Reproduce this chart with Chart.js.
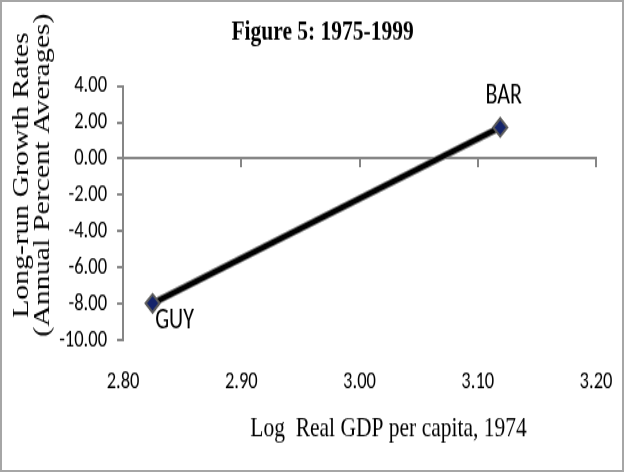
<!DOCTYPE html>
<html><head><meta charset="utf-8">
<script src="https://cdn.jsdelivr.net/npm/chart.js@4"></script>
<style>
html,body{margin:0;padding:0;background:#fff;}
#wrap{width:624px;height:472px;box-sizing:border-box;border:2px solid #a6a6a6;background:#fff;overflow:hidden;}
/* the original figure is stretched vertically (about 1.3x); draw at 620x360 and show at 620x468 */
#c{display:block;width:620px;height:468px;}
</style></head><body>
<div id="wrap"><canvas id="c" width="620" height="360" style="width:620px;height:468px;"></canvas></div>
<script>
// ---- data ----
const countries = ['GUY', 'BAR'];
const logGdp1974 = [2.825, 3.119];
const growthRate = [-7.98, 1.72];
const xTickValues = [2.80, 2.90, 3.00, 3.10, 3.20];
const yTickValues = [-10, -8, -6, -4, -2, 0, 2, 4];
const chartTitle = 'Figure 5: 1975-1999';
const xTitle = 'Log  Real GDP per capita, 1974';
const yTitle = ['Long-run Growth Rates', '(Annual Percent Averages)'];

const points = logGdp1974.map((x, i) => ({ x: x, y: growthRate[i] }));
const sans = "Carlito, Calibri, 'Liberation Sans', sans-serif";
const serif = "'Liberation Serif', 'Times New Roman', serif";
const axisGray = '#868686';

// labels next to the two points
const pointLabels = {
  id: 'pointLabels',
  afterDatasetsDraw(chart, args, opts) {
    const meta = chart.getDatasetMeta(1);
    const ctx = chart.ctx;
    ctx.save();
    ctx.font = opts.font;
    ctx.fillStyle = '#000';
    ctx.textAlign = 'center';
    ctx.textBaseline = 'middle';
    meta.data.forEach((pt, i) => {
      const off = opts.offsets[i];
      ctx.fillText(countries[i], pt.x + off[0], pt.y + off[1]);
    });
    ctx.restore();
  }
};

// axis titles placed as in the original figure
const axisTitles = {
  id: 'axisTitles',
  afterDraw(chart, args, opts) {
    const ctx = chart.ctx;
    ctx.save();
    ctx.font = opts.xFont;
    ctx.fillStyle = '#000';
    ctx.textAlign = 'center';
    ctx.textBaseline = 'middle';
    ctx.fillText(xTitle, opts.xPos[0], opts.xPos[1]);
    ctx.font = opts.yFont;
    ctx.textBaseline = 'alphabetic';
    yTitle.forEach((line, i) => {
      ctx.save();
      ctx.translate(opts.yBaselines[i], opts.yCenter);
      ctx.rotate(-Math.PI / 2);
      ctx.fillText(line, 0, 0);
      ctx.restore();
    });
    ctx.restore();
  }
};

const setX = s => { s.ticks = xTickValues.map(v => ({ value: v })); };
const setY = s => { s.ticks = yTickValues.map(v => ({ value: v })); };

new Chart(document.getElementById('c'), {
  type: 'scatter',
  data: {
    datasets: [
      { data: points, showLine: true, borderColor: '#7a7a7a', borderWidth: 6, pointRadius: 0, order: 2 },
      { data: points, showLine: true, borderColor: '#000', borderWidth: 4,
        pointStyle: 'rectRot', pointRadius: 7, pointHoverRadius: 7,
        pointBackgroundColor: '#14246b', pointBorderColor: '#5a5a5a', pointBorderWidth: 2, order: 1 }
    ]
  },
  options: {
    responsive: false,
    animation: false,
    events: [],
    layout: { padding: { left: 47.2, right: 26, top: 0, bottom: 52.4 } },
    plugins: {
      legend: { display: false },
      tooltip: { enabled: false },
      title: { display: true, text: chartTitle, color: '#000',
        font: { family: serif, size: 21.5, weight: 'bold' }, padding: { top: 10.3, bottom: 28.5 } },
      pointLabels: { font: '22px ' + sans, offsets: [[22, 13.8], [3.5, -24]] },
      axisTitles: { xFont: '21.5px ' + serif, yFont: '23px ' + serif,
        xPos: [386.5, 328.3], yBaselines: [25.5, 46.5], yCenter: 133.1 }
    },
    scales: {
      x: {
        type: 'linear', position: 'bottom', min: 2.8, max: 3.2,
        afterBuildTicks: setX,
        border: { display: false },
        grid: { display: true, drawOnChartArea: false, drawTicks: true, tickLength: 17.4, color: 'rgba(0,0,0,0)' },
        ticks: { color: '#000', font: { family: sans, size: 18.5 }, padding: 4,
          callback: v => Number(v).toFixed(2), maxRotation: 0 }
      },
      x2: {
        type: 'linear', axis: 'x', position: { y: 0 }, min: 2.8, max: 3.2,
        afterBuildTicks: setX,
        border: { display: true, color: axisGray, width: 2 },
        grid: { drawOnChartArea: false, drawTicks: true, tickLength: 6, color: axisGray, lineWidth: 2 },
        ticks: { display: false }
      },
      y: {
        type: 'linear', position: 'left', min: -10, max: 4,
        afterBuildTicks: setY,
        border: { display: true, color: axisGray, width: 2 },
        grid: { drawOnChartArea: false, drawTicks: true, tickLength: 6, color: axisGray, lineWidth: 2 },
        ticks: { color: '#000', font: { family: sans, size: 18.5 }, padding: 10,
          callback: v => Number(v).toFixed(2) }
      }
    }
  },
  plugins: [pointLabels, axisTitles]
});
</script>
</body></html>
